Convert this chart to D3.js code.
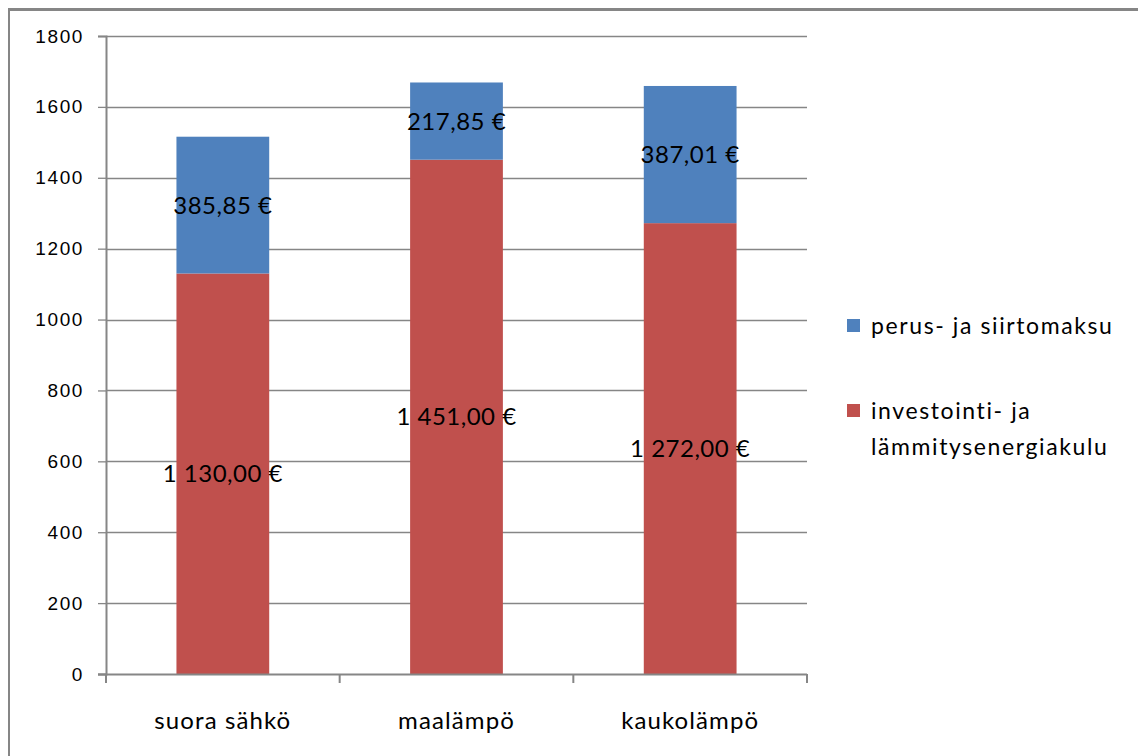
<!DOCTYPE html>
<html>
<head>
<meta charset="utf-8">
<script src="https://cdn.jsdelivr.net/npm/d3@7"></script>
<style>
  html, body { margin: 0; padding: 0; background: #fff; }
  svg { display: block; }
</style>
</head>
<body>
<svg id="chart" width="1138" height="756"></svg>
<script>
// Heating cost comparison: stacked yearly costs per heating type
const categories = ["suora sähkö", "maalämpö", "kaukolämpö"];
const energyCost = [1130.00, 1451.00, 1272.00];   // investointi- ja lämmitysenergiakulu
const baseFee    = [385.85, 217.85, 387.01];      // perus- ja siirtomaksu
const yTicks = [0, 200, 400, 600, 800, 1000, 1200, 1400, 1600, 1800];
const seriesNames = ["perus- ja siirtomaksu", "investointi- ja lämmitysenergiakulu"];
const seriesColors = ["#4F81BD", "#C0504D"];

const svg = d3.select("#chart");
const W = 1138, H = 756;
const plot = { left: 106, right: 807, top: 36, bottom: 674 };

// outer frame (top and left edges visible)
svg.append("line").attr("x1", 9).attr("x2", W).attr("y1", 9.5).attr("y2", 9.5)
  .attr("stroke", "#868686").attr("stroke-width", 3);
svg.append("line").attr("x1", 9).attr("x2", 9).attr("y1", 8).attr("y2", H)
  .attr("stroke", "#868686").attr("stroke-width", 2);

const x = d3.scaleBand().domain(categories).range([plot.left, plot.right])
  .paddingInner(0.603).paddingOuter(0.3015);
const y = d3.scaleLinear().domain([0, 1800]).range([plot.bottom, plot.top]);

const data = categories.map((c, i) => ({ cat: c, energy: energyCost[i], base: baseFee[i] }));
const stack = d3.stack().keys(["energy", "base"])(data);

// gridlines
svg.append("g").selectAll("line").data(yTicks.filter(t => t > 0)).join("line")
  .attr("x1", plot.left).attr("x2", plot.right)
  .attr("y1", d => Math.round(y(d)) + 0.5).attr("y2", d => Math.round(y(d)) + 0.5)
  .attr("stroke", "#868686").attr("stroke-width", 1.3);

// y axis
const yAxis = svg.append("g").attr("transform", `translate(${plot.left},0)`)
  .call(d3.axisLeft(y).tickValues(yTicks).tickSize(8).tickPadding(14).tickFormat(d3.format("d")));
yAxis.select(".domain").attr("stroke", "#868686").attr("stroke-width", 2);
yAxis.selectAll(".tick line").attr("stroke", "#868686").attr("stroke-width", 1.3);
yAxis.selectAll(".tick text").attr("font-family", "'Liberation Sans', Arial, sans-serif")
  .attr("font-size", 19).attr("letter-spacing", 1.6).attr("fill", "#000");

// bars
const colorOf = { energy: seriesColors[1], base: seriesColors[0] };
svg.append("g").selectAll("g").data(stack).join("g")
  .attr("fill", d => colorOf[d.key])
  .selectAll("rect").data(d => d).join("rect")
  .attr("x", d => x(d.data.cat))
  .attr("width", x.bandwidth())
  .attr("y", d => y(d[1]))
  .attr("height", d => y(d[0]) - y(d[1]));

// x axis
const xAxis = svg.append("g").attr("transform", `translate(0,${plot.bottom})`)
  .call(d3.axisBottom(x).tickSize(0).tickPadding(38));
xAxis.select(".domain").remove();
svg.append("line").attr("x1", plot.left - 8).attr("x2", plot.right)
  .attr("y1", plot.bottom + 0.5).attr("y2", plot.bottom + 0.5)
  .attr("stroke", "#868686").attr("stroke-width", 2);
const boundaries = [0, 1, 2, 3].map(i => plot.left + i * x.step());
svg.append("g").selectAll("line").data(boundaries).join("line")
  .attr("x1", d => d).attr("x2", d => d)
  .attr("y1", plot.bottom).attr("y2", plot.bottom + 9)
  .attr("stroke", "#868686").attr("stroke-width", 2);
xAxis.selectAll(".tick text").attr("font-family", "Lato, 'Open Sans', sans-serif")
  .attr("font-size", 24).attr("letter-spacing", 1.1).attr("fill", "#000");

// value labels
const fmt = v => {
  const [int, dec] = v.toFixed(2).split(".");
  const grouped = int.replace(/\B(?=(\d{3})+(?!\d))/g, " ");
  return `${grouped},${dec} €`;
};
svg.append("g").selectAll("text")
  .data(stack.flatMap(s => s.map(d => ({ key: s.key, lo: d[0], hi: d[1], cat: d.data.cat }))))
  .join("text")
  .attr("x", d => x(d.cat) + x.bandwidth() / 2)
  .attr("y", d => y((d.lo + d.hi) / 2))
  .attr("dy", "0.36em")
  .attr("text-anchor", "middle")
  .attr("font-family", "Lato, 'Open Sans', sans-serif")
  .attr("font-size", 24).attr("letter-spacing", 0.5)
  .text(d => fmt(d.hi - d.lo));

// legend
const legend = svg.append("g");
const legendItems = [
  { name: seriesNames[0], color: seriesColors[0], lines: ["perus- ja siirtomaksu"], y: 326 },
  { name: seriesNames[1], color: seriesColors[1], lines: ["investointi- ja", "lämmitysenergiakulu"], y: 411 }
];
legendItems.forEach(it => {
  legend.append("rect").attr("x", 847).attr("y", it.y - 7).attr("width", 13).attr("height", 13)
    .attr("fill", it.color);
  const t = legend.append("text").attr("x", 871).attr("y", it.y)
    .attr("font-family", "Lato, 'Open Sans', sans-serif").attr("font-size", 23)
    .attr("letter-spacing", 1.6);
  it.lines.forEach((ln, i) => {
    t.append("tspan").attr("x", 871).attr("dy", i === 0 ? "0.36em" : "1.55em").text(ln);
  });
});
</script>
</body>
</html>
